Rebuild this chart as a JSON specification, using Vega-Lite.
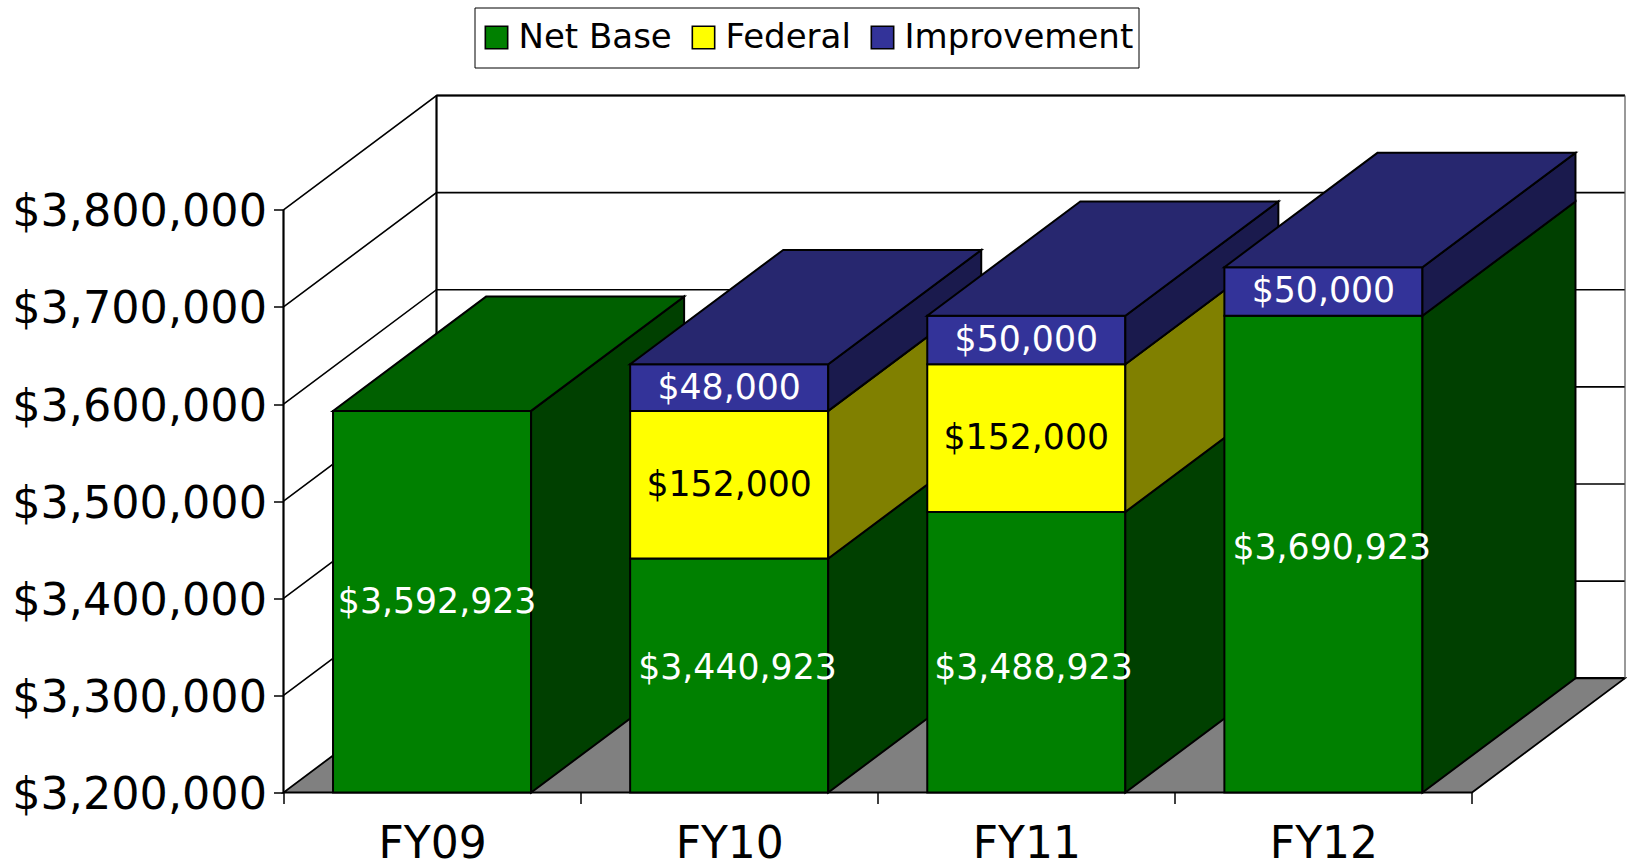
{
"$schema":"https://vega.github.io/schema/vega-lite/v6.json",
"autosize":{"type":"none"},
"padding":{"left":283.5,"top":95.5,"right":2,"bottom":74.5},
"width":1341.5,
"height":697,
"background":"white",
"config":{"font":"DejaVu Sans","view":{"stroke":null}},
"data":{"values":[
{"category":"FY09","series":"Net Base","value":3592923},
{"category":"FY10","series":"Net Base","value":3440923},
{"category":"FY10","series":"Federal","value":152000},
{"category":"FY10","series":"Improvement","value":48000},
{"category":"FY11","series":"Net Base","value":3488923},
{"category":"FY11","series":"Federal","value":152000},
{"category":"FY11","series":"Improvement","value":50000},
{"category":"FY12","series":"Net Base","value":3690923},
{"category":"FY12","series":"Improvement","value":50000}
]},
"transform":[
{"calculate":"indexof(['Net Base','Federal','Improvement'],datum.series)","as":"rank"},
{"stack":"value","groupby":["category"],"sort":[{"field":"rank","order":"ascending"}],"as":["s0","e"]},
{"calculate":"max(datum.s0,3200000)","as":"s"},
{"joinaggregate":[{"op":"max","field":"e","as":"stackMax"}],"groupby":["category"]},
{"calculate":"indexof(['FY09','FY10','FY11','FY12'],datum.category)","as":"i"},
{"calculate":"datum.i+1/6","as":"l"},
{"calculate":"datum.i+5/6","as":"r"}
],
"encoding":{
"x":{"field":"px","type":"quantitative","scale":{"domain":[0,4.515],"nice":false,"zero":false},"axis":{"values":[0,1,2,3,4],"title":null,"grid":false,"domain":false,"ticks":true,"tickColor":"black","tickSize":11,"tickWidth":1.5,"labelExpr":"['FY09','FY10','FY11','FY12',''][datum.value]","labelOffset":148.6,"labelAlign":"center","labelBaseline":"top","labelFlush":false,"labelBound":false,"labelOverlap":false,"labelFontSize":44,"labelColor":"black","labelPadding":19}},
"y":{"field":"py","type":"quantitative","stack":null,"scale":{"domain":[3200000,3917700],"nice":false,"zero":false},"axis":{"values":[3200000,3300000,3400000,3500000,3600000,3700000,3800000],"title":null,"grid":false,"domain":false,"tickColor":"black","tickSize":10,"tickWidth":1.5,"format":"$,.0f","labelFontSize":44.5,"labelColor":"black","labelPadding":7,"labelOffset":3,"labelOverlap":false,"labelBound":false,"labelFlush":false,"labelLimit":400}}
},
"layer":[
{"data":{"values":[{"t":0},{"t":1}]},
 "transform":[{"calculate":"datum.t*0.515","as":"px"},{"calculate":"4+datum.t*0.515","as":"px2"},{"calculate":"3200000+datum.t*117700","as":"py"}],
 "mark":{"type":"area","orient":"horizontal","fill":"#808080","stroke":"black","strokeWidth":1.8},
 "encoding":{"x2":{"field":"px2"}}},
{"data":{"values":[{"v":3300000},{"v":3400000},{"v":3500000},{"v":3600000},{"v":3700000},{"v":3800000}]},
 "transform":[{"calculate":"[0,1,2]","as":"t"},{"flatten":["t"]},{"calculate":"[0,0.515,4.515][datum.t]","as":"px"},{"calculate":"datum.v+(datum.t>0?117700:0)","as":"py"}],
 "mark":{"type":"line","color":"black","strokeWidth":1.6},
 "encoding":{"detail":{"field":"v"}}},
{"data":{"values":[{"path":"front left","px":0,"py":3200000},{"path":"front left","px":0,"py":3800000},{"path":"back left","px":0.515,"py":3317700},{"path":"back left","px":0.515,"py":3917700},{"path":"back top","px":0.515,"py":3917700},{"path":"back top","px":4.515,"py":3917700},{"path":"back bottom","px":0.515,"py":3317700},{"path":"back bottom","px":4.515,"py":3317700}]},
 "mark":{"type":"line","color":"black","strokeWidth":2.2},
 "encoding":{"detail":{"field":"path"}}},
{"data":{"values":[{"path":"back right","px":4.515,"py":3317700},{"path":"back right","px":4.515,"py":3917700}]},
 "mark":{"type":"line","color":"#555555","strokeWidth":1.2},
 "encoding":{"detail":{"field":"path"}}},
{"transform":[
 {"calculate":"['front','side']","as":"face"},{"flatten":["face"]},
 {"calculate":"[0,1]","as":"t"},{"flatten":["t"]},
 {"calculate":"datum.face=='front'?datum.l+datum.t*(datum.r-datum.l):datum.r+datum.t*0.515","as":"px"},
 {"calculate":"datum.face=='front'?datum.e:datum.e+datum.t*117700","as":"py"},
 {"calculate":"datum.face=='front'?datum.s:datum.s+datum.t*117700","as":"py2"},
 {"calculate":"datum.face=='front'?datum.series:datum.series+' side'","as":"key"},
 {"calculate":"datum.category+datum.series+datum.face","as":"faceId"}],
 "mark":{"type":"area","orient":"vertical","stroke":"black","strokeWidth":2},
 "encoding":{"y2":{"field":"py2"},"detail":{"field":"faceId"},
  "color":{"field":"key","type":"nominal",
   "scale":{"domain":["Net Base","Federal","Improvement","Net Base side","Federal side","Improvement side","Net Base top","Improvement top"],"range":["#008000","#FFFF00","#333399","#004000","#808000","#1A1A4D","#006000","#27276F"]},
   "legend":{"values":["Net Base","Federal","Improvement"],"title":null,"orient":"none","direction":"horizontal","columns":3,"legendX":191,"legendY":-88,"symbolType":"square","symbolSize":500,"symbolStrokeColor":"black","symbolStrokeWidth":1.6,"symbolOpacity":1,"labelFontSize":34,"labelColor":"black","labelOffset":5,"columnPadding":14,"padding":5,"fillColor":"white","strokeColor":"black","clipHeight":50,"labelLimit":400}}}},
{"transform":[
 {"filter":"datum.e==datum.stackMax"},
 {"calculate":"[0,1]","as":"t"},{"flatten":["t"]},
 {"calculate":"datum.l+datum.t*0.515","as":"px"},
 {"calculate":"datum.r+datum.t*0.515","as":"px2"},
 {"calculate":"datum.e+datum.t*117700","as":"py"},
 {"calculate":"datum.series+' top'","as":"key"}],
 "mark":{"type":"area","orient":"horizontal","stroke":"black","strokeWidth":2},
 "encoding":{"x2":{"field":"px2"},"detail":{"field":"category"},"color":{"field":"key","type":"nominal"}}},
{"transform":[
 {"calculate":"datum.i+0.5+(datum.series=='Net Base'?{'FY09':0.017,'FY10':0.028,'FY11':0.024,'FY12':0.028}[datum.category]:0)","as":"px"},
 {"calculate":"(datum.s+datum.e)/2+(datum.series=='Net Base'?{'FY09':0,'FY10':7500,'FY11':-16500,'FY12':5900}[datum.category]:0)","as":"py"}],
 "mark":{"type":"text","fontSize":34.7,"align":"center","baseline":"middle","dy":1},
 "encoding":{"text":{"field":"value","type":"quantitative","format":"$,.0f"},
  "color":{"condition":{"test":"datum.series=='Federal'","value":"black"},"value":"white"}}}
]
}
